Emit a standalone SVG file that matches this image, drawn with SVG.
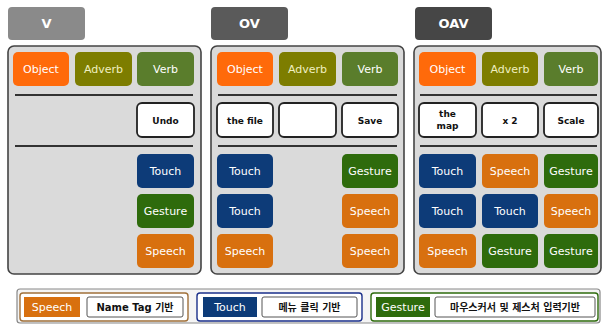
<svg xmlns="http://www.w3.org/2000/svg" width="603" height="325" viewBox="0 0 603 325">
<style>
.bg{fill:#ffffff}
.tab{stroke:none}
.tabt{font-family:"DejaVu Sans",sans-serif;font-weight:bold;font-size:13px;fill:#ffffff;text-anchor:middle}
.panel{fill:#dadada;stroke:#444;stroke-width:1.6}
.sep{stroke:#333;stroke-width:2}
.b{stroke:none}
.t{font-family:"DejaVu Sans",sans-serif;font-size:11px;text-anchor:middle;fill:#ffffff}
.w{fill:#ffffff;stroke:#222;stroke-width:1.8}
.wt{font-family:"DejaVu Sans",sans-serif;font-size:9px;font-weight:bold;text-anchor:middle;fill:#111}
.obj{fill:#ff6a0a}.adv{fill:#7d7d00}.verb{fill:#5a7d2c}
.touch{fill:#0d3b78}.gest{fill:#2e6b0c}.speech{fill:#d8700f}
.lt{font-family:"DejaVu Sans","Noto Sans CJK KR",sans-serif;font-size:10px;font-weight:bold;fill:#111;text-anchor:middle}
</style>
<rect class="bg" x="0" y="0" width="603" height="325"/>

<g id="tab-v"><rect class="tab" x="8" y="7" width="77" height="33" rx="4" fill="#8a8a8a"/><text class="tabt" x="46.5" y="28">V</text></g>
<g id="tab-ov"><rect class="tab" x="211" y="7" width="77" height="33" rx="4" fill="#5a5a5a"/><text class="tabt" x="249.5" y="28">OV</text></g>
<g id="tab-oav"><rect class="tab" x="415" y="7" width="77" height="33" rx="4" fill="#464646"/><text class="tabt" x="453.5" y="28">OAV</text></g>

<g id="panel-v">
<rect class="panel" x="8" y="46" width="193" height="228" rx="6"/>
<rect class="b obj" x="13" y="52" width="56" height="34" rx="5"/><text class="t" x="41" y="73" fill="#ffe0cc">Object</text>
<rect class="b adv" x="75" y="52" width="57" height="34" rx="5"/><text class="t" x="103.5" y="73" style="fill:#f0f0c0">Adverb</text>
<rect class="b verb" x="137" y="52" width="57" height="34" rx="5"/><text class="t" x="165.5" y="73">Verb</text>
<line class="sep" x1="15" y1="95" x2="193" y2="95"/>
<rect class="w" x="137" y="103" width="57" height="34" rx="5"/><text class="wt" x="165.5" y="124">Undo</text>
<line class="sep" x1="15" y1="146" x2="193" y2="146"/>
<rect class="b touch" x="137" y="154" width="57" height="34" rx="5"/><text class="t" x="165.5" y="175">Touch</text>
<rect class="b gest" x="137" y="194" width="57" height="34" rx="5"/><text class="t" x="165.5" y="215">Gesture</text>
<rect class="b speech" x="137" y="234" width="57" height="34" rx="5"/><text class="t" x="165.5" y="255">Speech</text>
</g>

<g id="panel-ov">
<rect class="panel" x="211" y="46" width="193" height="228" rx="6"/>
<rect class="b obj" x="217" y="52" width="56" height="34" rx="5"/><text class="t" x="245" y="73">Object</text>
<rect class="b adv" x="279" y="52" width="57" height="34" rx="5"/><text class="t" x="307.5" y="73" style="fill:#f0f0c0">Adverb</text>
<rect class="b verb" x="342" y="52" width="56" height="34" rx="5"/><text class="t" x="370" y="73">Verb</text>
<line class="sep" x1="218" y1="95" x2="397" y2="95"/>
<rect class="w" x="217" y="103" width="56" height="34" rx="5"/><text class="wt" x="245" y="124">the file</text>
<rect class="w" x="279" y="103" width="57" height="34" rx="5"/>
<rect class="w" x="342" y="103" width="56" height="34" rx="5"/><text class="wt" x="370" y="124">Save</text>
<line class="sep" x1="218" y1="146" x2="397" y2="146"/>
<rect class="b touch" x="217" y="154" width="56" height="34" rx="5"/><text class="t" x="245" y="175">Touch</text>
<rect class="b gest" x="342" y="154" width="56" height="34" rx="5"/><text class="t" x="370" y="175">Gesture</text>
<rect class="b touch" x="217" y="194" width="56" height="34" rx="5"/><text class="t" x="245" y="215">Touch</text>
<rect class="b speech" x="342" y="194" width="56" height="34" rx="5"/><text class="t" x="370" y="215">Speech</text>
<rect class="b speech" x="217" y="234" width="56" height="34" rx="5"/><text class="t" x="245" y="255">Speech</text>
<rect class="b speech" x="342" y="234" width="56" height="34" rx="5"/><text class="t" x="370" y="255">Speech</text>
</g>

<g id="panel-oav">
<rect class="panel" x="414" y="46" width="187" height="228" rx="6"/>
<rect class="b obj" x="419" y="52" width="57" height="34" rx="5"/><text class="t" x="447.5" y="73">Object</text>
<rect class="b adv" x="482" y="52" width="56" height="34" rx="5"/><text class="t" x="510" y="73" style="fill:#f0f0c0">Adverb</text>
<rect class="b verb" x="544" y="52" width="54" height="34" rx="5"/><text class="t" x="571" y="73">Verb</text>
<line class="sep" x1="420" y1="95" x2="597" y2="95"/>
<rect class="w" x="419" y="103" width="57" height="34" rx="5"/><text class="wt" x="447.5" y="117">the</text><text class="wt" x="447.5" y="129">map</text>
<rect class="w" x="482" y="103" width="56" height="34" rx="5"/><text class="wt" x="510" y="124">x 2</text>
<rect class="w" x="544" y="103" width="54" height="34" rx="5"/><text class="wt" x="571" y="124">Scale</text>
<line class="sep" x1="420" y1="146" x2="597" y2="146"/>
<rect class="b touch" x="419" y="154" width="57" height="34" rx="5"/><text class="t" x="447.5" y="175">Touch</text>
<rect class="b speech" x="482" y="154" width="56" height="34" rx="5"/><text class="t" x="510" y="175">Speech</text>
<rect class="b gest" x="544" y="154" width="54" height="34" rx="5"/><text class="t" x="571" y="175">Gesture</text>
<rect class="b touch" x="419" y="194" width="57" height="34" rx="5"/><text class="t" x="447.5" y="215">Touch</text>
<rect class="b touch" x="482" y="194" width="56" height="34" rx="5"/><text class="t" x="510" y="215">Touch</text>
<rect class="b speech" x="544" y="194" width="54" height="34" rx="5"/><text class="t" x="571" y="215">Speech</text>
<rect class="b speech" x="419" y="234" width="57" height="34" rx="5"/><text class="t" x="447.5" y="255">Speech</text>
<rect class="b gest" x="482" y="234" width="56" height="34" rx="5"/><text class="t" x="510" y="255">Gesture</text>
<rect class="b gest" x="544" y="234" width="54" height="34" rx="5"/><text class="t" x="571" y="255">Gesture</text>
</g>

<g id="legend">
<rect x="17" y="289" width="583" height="34" rx="3" fill="#f4f4f4" stroke="#888" stroke-width="1.2"/>
<g id="legend-speech">
<rect x="20" y="293" width="168" height="28" rx="3" fill="#ffffff" stroke="#a0703a" stroke-width="1.4"/>
<rect class="b speech" x="24" y="297" width="56" height="20"/><text class="t" x="52" y="311">Speech</text>
<rect x="87" y="297" width="96" height="20" rx="2" fill="#fff" stroke="#555" stroke-width="1"/><text class="lt" x="135" y="311">Name Tag 기반</text>
</g>
<g id="legend-touch">
<rect x="197" y="293" width="165" height="28" rx="3" fill="#ffffff" stroke="#1a2f8a" stroke-width="1.4"/>
<rect class="b touch" x="203" y="297" width="54" height="20"/><text class="t" x="230" y="311">Touch</text>
<rect x="262" y="297" width="95" height="20" rx="2" fill="#fff" stroke="#555" stroke-width="1"/><text class="lt" x="309.5" y="311">메뉴 클릭 기반</text>
</g>
<g id="legend-gesture">
<rect x="371" y="293" width="227" height="28" rx="3" fill="#ffffff" stroke="#2e6b0c" stroke-width="1.4"/>
<rect class="b gest" x="376" y="297" width="54" height="20"/><text class="t" x="403" y="311">Gesture</text>
<rect x="435" y="297" width="160" height="20" rx="2" fill="#fff" stroke="#555" stroke-width="1"/><text class="lt" x="515" y="311">마우스커서 및 제스처 입력기반</text>
</g>
</g>
</svg>
